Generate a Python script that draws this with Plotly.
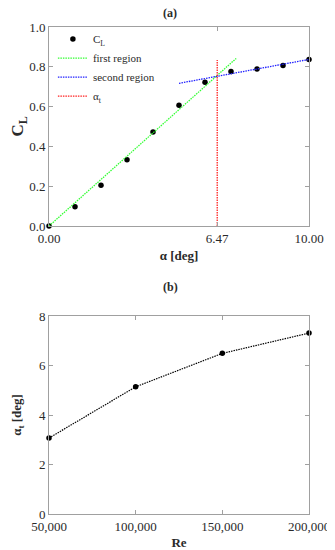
import plotly.graph_objects as go

# ---- data (a) ----
alpha_deg = [0, 1, 2, 3, 4, 5, 6, 7, 8, 9, 10]
cl_values = [0.0, 0.097, 0.205, 0.333, 0.472, 0.607, 0.722, 0.777, 0.789, 0.806, 0.837]
first_region_x = [0.0, 7.2]
first_region_y = [0.0, 0.842]
second_region_x = [5.0, 10.0]
second_region_y = [0.717, 0.837]
alpha_t_x = [6.47, 6.47]
alpha_t_y = [0.0, 0.834]
top_xtick_vals = [0, 6.47, 10]
top_xtick_text = ["0.00", "6.47", "10.00"]

# ---- data (b) ----
reynolds = [50000, 100000, 150000, 200000]
alpha_t_values = [3.07, 5.14, 6.49, 7.31]

FONT = "Liberation Serif, Times New Roman, serif"
AXC = "#a0a0a0"
TXT = "#2a2a2a"
DOT = "1.5px,1px"

# the page body adds an 8px offset; the figure is sized to fill the rest of the window
W, H = 327, 542
ML, MR, MT, MB = 41, 26, 19, 36

fig = go.Figure()
fig.add_trace(go.Scatter(x=alpha_deg, y=cl_values, mode="markers", name="C<sub>L</sub>",
                         marker=dict(color="black", size=5.5), cliponaxis=False,
                         xaxis="x", yaxis="y"))
fig.add_trace(go.Scatter(x=first_region_x, y=first_region_y, mode="lines", name="first region",
                         line=dict(color="#33ff33", width=1.3, dash=DOT), xaxis="x", yaxis="y"))
fig.add_trace(go.Scatter(x=second_region_x, y=second_region_y, mode="lines", name="second region",
                         line=dict(color="#2222ff", width=1.3, dash=DOT), xaxis="x", yaxis="y"))
fig.add_trace(go.Scatter(x=alpha_t_x, y=alpha_t_y, mode="lines", name="α<sub>t</sub>",
                         line=dict(color="#ff2222", width=1.3, dash=DOT), xaxis="x", yaxis="y"))

fig.add_trace(go.Scatter(x=reynolds, y=alpha_t_values, mode="lines+markers", showlegend=False,
                         line=dict(color="black", width=1.2, dash=DOT),
                         marker=dict(color="black", size=5.5), cliponaxis=False,
                         xaxis="x2", yaxis="y2"))

axis_common = dict(showline=True, linecolor=AXC, linewidth=1, mirror="ticks", ticks="inside",
                   ticklen=4, tickcolor=AXC, showgrid=False, zeroline=False, automargin=False,
                   tickfont=dict(family=FONT, size=13, color=TXT))

plot_w = W - ML - MR
plot_h = H - MT - MB
top_bottom_px = 226 - 8      # bottom edge of panel (a) in figure pixels
bot_top_px = 316 - 8         # top edge of panel (b) in figure pixels
dom_a0 = (H - MB - top_bottom_px) / plot_h
dom_b1 = (H - MB - bot_top_px) / plot_h

fig.update_layout(
    width=W, height=H,
    margin=dict(l=ML, r=MR, t=MT, b=MB),
    paper_bgcolor="white", plot_bgcolor="white",
    font=dict(family=FONT, color=TXT),
    xaxis=dict(domain=[0, 1], range=[0, 10], tickvals=top_xtick_vals, ticktext=top_xtick_text,
               anchor="y",
               title=dict(text="<b>α [deg]</b>", font=dict(family=FONT, size=13, color=TXT), standoff=6),
               **axis_common),
    yaxis=dict(domain=[dom_a0, 1], range=[0, 1], dtick=0.2, tickformat=".1f", anchor="x",
               title=dict(text="<b>C<sub>L</sub></b>", font=dict(family=FONT, size=17, color=TXT), standoff=10),
               **axis_common),
    xaxis2=dict(domain=[0, 1], range=[50000, 200000], dtick=50000, tickformat=",d", anchor="y2",
                title=dict(text="<b>Re</b>", font=dict(family=FONT, size=13, color=TXT), standoff=5),
                **axis_common),
    yaxis2=dict(domain=[0, dom_b1], range=[0, 8], dtick=2, anchor="x2",
                title=dict(text="<b>α<sub>t</sub> [deg]</b>", font=dict(family=FONT, size=13, color=TXT), standoff=14),
                **axis_common),
    legend=dict(x=0.015, y=1.005, xanchor="left", yanchor="top", bgcolor="rgba(0,0,0,0)",
                font=dict(family=FONT, size=11, color=TXT), tracegroupgap=0),
    annotations=[
        dict(text="<b>(a)</b>", x=170 - 8, y=13 - 8, xref="paper", yref="paper", showarrow=False,
             xanchor="center", yanchor="middle", font=dict(family=FONT, size=12, color=TXT)),
        dict(text="<b>(b)</b>", x=170 - 8, y=287 - 8, xref="paper", yref="paper", showarrow=False,
             xanchor="center", yanchor="middle", font=dict(family=FONT, size=12, color=TXT)),
    ],
)

# convert pixel positions of the panel titles to paper coordinates
for ann in fig.layout.annotations:
    ann.x = (ann.x - ML) / plot_w
    ann.y = (H - MB - ann.y) / plot_h

fig.write_html("out.html")
